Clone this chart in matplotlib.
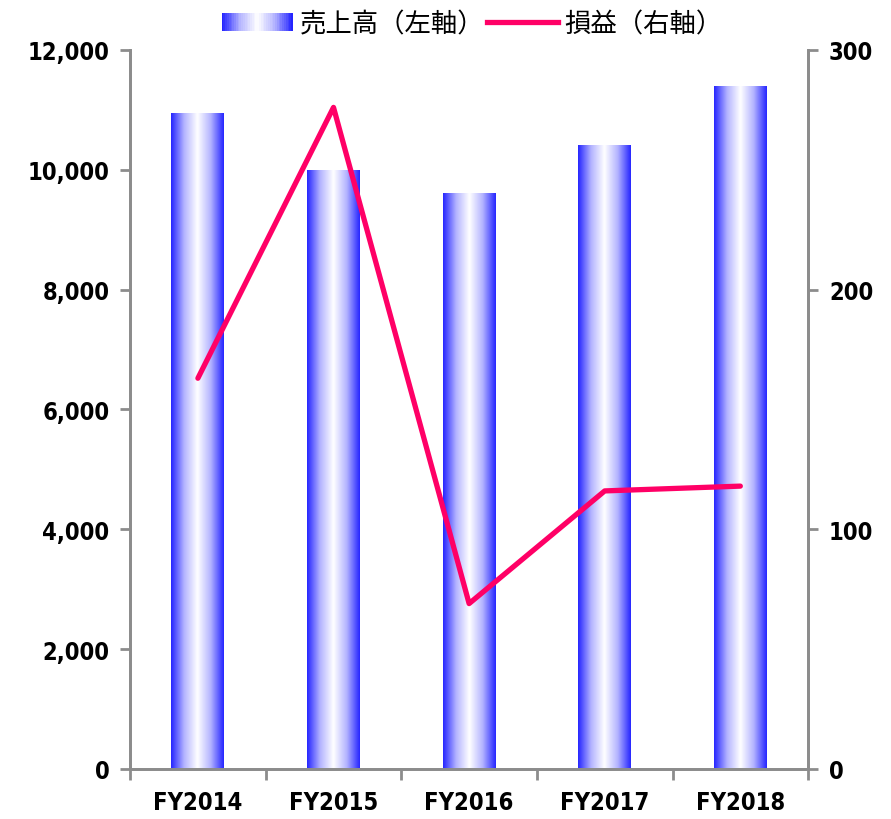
import matplotlib
matplotlib.use("Agg")
import matplotlib.pyplot as plt
import numpy as np
from matplotlib.colors import LinearSegmentedColormap
from matplotlib.legend_handler import HandlerBase
from matplotlib.patches import Rectangle, Patch
from matplotlib.lines import Line2D
from matplotlib.ticker import FuncFormatter

plt.rcParams['font.family'] = ['Noto Sans CJK JP', 'DejaVu Sans']

years = ["FY2014", "FY2015", "FY2016", "FY2017", "FY2018"]
sales = [10930, 9980, 9610, 10400, 11390]      # 売上高 (left axis)
profit = [163, 276, 69, 116, 118]              # 損益 (right axis)

sales_label = "売上高（左軸）"
profit_label = "損益（右軸）"

blue = "#2525ff"
pink = "#ff0066"
spine_gray = "#8c8c8c"
grad = LinearSegmentedColormap.from_list("bargrad", [blue, "#b4b4ff", "white", "#b4b4ff", blue])

fig = plt.figure(figsize=(8.91, 8.2), dpi=100)
ax = fig.add_axes([0.146, 0.061, 0.761, 0.877])

x = np.arange(len(years))
width = 0.39
bars = ax.bar(x, sales, width=width, color="none", edgecolor="none")
g = np.linspace(0, 1, 256).reshape(1, -1)
for b in bars:
    x0, y0 = b.get_x(), b.get_y()
    ax.imshow(g, cmap=grad, aspect="auto", interpolation="bicubic",
              extent=[x0, x0 + b.get_width(), y0, y0 + b.get_height()], zorder=2)

ax.set_xlim(-0.5, len(years) - 0.5)
ax.set_ylim(0, 12000)
ax.set_yticks(np.arange(0, 12001, 2000))
ax.yaxis.set_major_formatter(FuncFormatter(lambda v, p: f"{int(v):,}"))
ax.set_xticks(x)
ax.set_xticklabels(years)
ax.set_xticks(np.arange(-0.5, len(years), 1), minor=True)
ax.tick_params(axis="x", which="major", length=0, pad=15)
ax.tick_params(axis="x", which="minor", length=8, width=2, color=spine_gray)
ax.tick_params(axis="y", length=7, width=2, color=spine_gray, pad=8)

ax2 = ax.twinx()
ax2.plot(x, profit, color=pink, linewidth=3.8, solid_capstyle="round", solid_joinstyle="round")
ax2.set_ylim(0, 300)
ax2.set_yticks([0, 100, 200, 300])
ax2.tick_params(axis="y", length=7, width=2, color=spine_gray, pad=8)

for a in (ax, ax2):
    a.spines["top"].set_visible(False)
    for s in ("left", "right", "bottom"):
        a.spines[s].set_color(spine_gray)
        a.spines[s].set_linewidth(2)
    for lbl in a.get_xticklabels() + a.get_yticklabels():
        lbl.set_fontsize(17)
        lbl.set_fontweight("bold")
        lbl.set_fontstretch("condensed")
        lbl.set_family(["DejaVu Sans"])


class GradientHandler(HandlerBase):
    def create_artists(self, legend, orig_handle, xdescent, ydescent, width, height, fontsize, trans):
        n = 40
        arts = []
        for i in range(n):
            c = grad(i / (n - 1))
            r = Rectangle((-xdescent + width * i / n, -ydescent), width / n + 0.3, height,
                          facecolor=c, edgecolor="none", transform=trans)
            arts.append(r)
        return arts


h1 = Patch(label=sales_label)
h2 = Line2D([], [], color=pink, linewidth=3.8, label=profit_label)
fig.legend([h1, h2], [sales_label, profit_label], loc="upper center",
           bbox_to_anchor=(0.53, 1.015), ncol=2, frameon=False, fontsize=19,
           handlelength=2.7, handletextpad=0.25, columnspacing=0.1,
           handler_map={Patch: GradientHandler()})

fig.savefig("out.png", dpi=100)
